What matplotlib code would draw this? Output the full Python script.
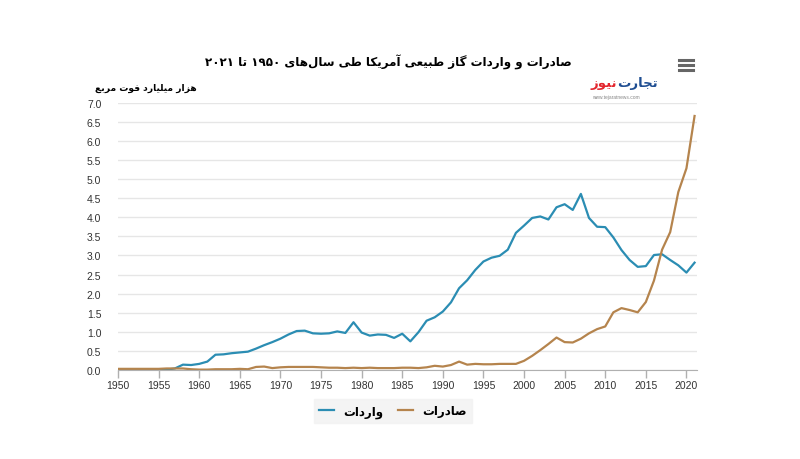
import re
import matplotlib
matplotlib.use("Agg")
import matplotlib.pyplot as plt
from matplotlib.lines import Line2D

# سال‌ها و مقادیر (هزار میلیارد فوت)
years = list(range(1950, 2022))

imports = [0.00, 0.00, 0.00, 0.01, 0.01, 0.01, 0.01, 0.04, 0.14, 0.13,
           0.16, 0.22, 0.40, 0.41, 0.44, 0.46, 0.48, 0.56, 0.65, 0.73,
           0.82, 0.93, 1.02, 1.03, 0.96, 0.95, 0.96, 1.01, 0.97, 1.25,
           0.98, 0.90, 0.93, 0.92, 0.84, 0.95, 0.75, 0.99, 1.29, 1.38,
           1.53, 1.77, 2.14, 2.35, 2.62, 2.84, 2.94, 2.99, 3.15, 3.59,
           3.78, 3.98, 4.02, 3.94, 4.26, 4.34, 4.19, 4.61, 3.98, 3.75,
           3.74, 3.47, 3.14, 2.88, 2.70, 2.72, 3.01, 3.03, 2.88, 2.74,
           2.55, 2.81]

exports = [0.03, 0.03, 0.03, 0.03, 0.03, 0.03, 0.04, 0.04, 0.04, 0.02,
           0.01, 0.01, 0.02, 0.02, 0.02, 0.03, 0.02, 0.08, 0.09, 0.05,
           0.07, 0.08, 0.08, 0.08, 0.08, 0.07, 0.06, 0.06, 0.05, 0.06,
           0.05, 0.06, 0.05, 0.05, 0.05, 0.06, 0.06, 0.05, 0.07, 0.11,
           0.09, 0.13, 0.22, 0.14, 0.16, 0.15, 0.15, 0.16, 0.16, 0.16,
           0.24, 0.37, 0.52, 0.68, 0.85, 0.73, 0.72, 0.82, 0.96, 1.07,
           1.14, 1.51, 1.62, 1.57, 1.51, 1.78, 2.34, 3.15, 3.61, 4.66,
           5.28, 6.65]

x_ticks = list(range(1950, 2021, 5))
y_ticks = [i * 0.5 for i in range(15)]

title_fa = "صادرات و واردات گاز طبیعی آمریکا طی سال\u200cهای ۱۹۵۰ تا ۲۰۲۱"
unit_fa = "هزار میلیارد فوت مربع"
label_imports = "واردات"
label_exports = "صادرات"

# شکل‌های حروف: (جدا، پایانی، آغازی، میانی)
FORMS = {
    "ا": ("\uFE8D", "\uFE8E"), "آ": ("\uFE81", "\uFE82"),
    "ب": ("\uFE8F", "\uFE90", "\uFE91", "\uFE92"),
    "ت": ("\uFE95", "\uFE96", "\uFE97", "\uFE98"),
    "ج": ("\uFE9D", "\uFE9E", "\uFE9F", "\uFEA0"),
    "د": ("\uFEA9", "\uFEAA"), "ر": ("\uFEAD", "\uFEAE"), "ز": ("\uFEAF", "\uFEB0"),
    "س": ("\uFEB1", "\uFEB2", "\uFEB3", "\uFEB4"),
    "ص": ("\uFEB9", "\uFEBA", "\uFEBB", "\uFEBC"),
    "ط": ("\uFEC1", "\uFEC2", "\uFEC3", "\uFEC4"),
    "ع": ("\uFEC9", "\uFECA", "\uFECB", "\uFECC"),
    "ف": ("\uFED1", "\uFED2", "\uFED3", "\uFED4"),
    "ل": ("\uFEDD", "\uFEDE", "\uFEDF", "\uFEE0"),
    "م": ("\uFEE1", "\uFEE2", "\uFEE3", "\uFEE4"),
    "ن": ("\uFEE5", "\uFEE6", "\uFEE7", "\uFEE8"),
    "ه": ("\uFEE9", "\uFEEA", "\uFEEB", "\uFEEC"),
    "و": ("\uFEED", "\uFEEE"),
    "ی": ("\uFBFC", "\uFBFD", "\uFBFE", "\uFBFF"),
    "ک": ("\uFB8E", "\uFB8F", "\uFB90", "\uFB91"),
    "گ": ("\uFB92", "\uFB93", "\uFB94", "\uFB95"),
}


def fa(text):
    """Shape Persian letters and reverse for left-to-right drawing."""
    out = []
    for i, c in enumerate(text):
        if c not in FORMS:
            out.append(c)
            continue
        prev = text[i - 1] if i > 0 else ""
        nxt = text[i + 1] if i + 1 < len(text) else ""
        j_prev = prev in FORMS and len(FORMS[prev]) == 4
        j_next = nxt in FORMS and len(FORMS[c]) == 4
        f = FORMS[c]
        if j_prev and j_next:
            out.append(f[3])
        elif j_prev:
            out.append(f[1])
        elif j_next:
            out.append(f[2])
        else:
            out.append(f[0])
    s = "".join(out).replace("\u200c", "")
    tokens = re.findall(r"[0-9۰-۹.]+|.", s)
    return "".join(reversed(tokens))


FA_FONT = ["DejaVu Sans"]
NUM_FONT = ["Liberation Sans", "DejaVu Sans"]

fig = plt.figure(figsize=(8, 4.6), dpi=100)
ax = fig.add_axes([118 / 800, 1 - 371 / 460, 579 / 800, 267.4 / 460])

ax.plot(years, imports, color="#2b8db3", lw=1.6, label=fa(label_imports))
ax.plot(years, exports, color="#b5844d", lw=1.6, label=fa(label_exports))

ax.set_xlim(1950, 2021.3)
ax.set_ylim(0, 7.0)
ax.set_xticks(x_ticks)
ax.set_yticks(y_ticks)
ax.set_yticklabels([f"{v:.1f}" for v in y_ticks])
ax.grid(axis="y", color="#e6e6e6", lw=1)
ax.set_axisbelow(True)
for side in ["top", "right", "left"]:
    ax.spines[side].set_visible(False)
ax.spines["bottom"].set_color("#b0b0b0")
ax.tick_params(axis="x", length=6, width=1, color="#b0b0b0", pad=1,
               labelsize=7.5, labelcolor="#333333")
ax.tick_params(axis="y", length=0, pad=12, labelsize=7.5, labelcolor="#333333")
for lbl in ax.get_xticklabels() + ax.get_yticklabels():
    lbl.set_family(NUM_FONT)

# عنوان و واحد
fig.text(388 / 800, 1 - 62 / 460, fa(title_fa), ha="center", va="center",
         fontsize=8.6, fontweight="bold", family=FA_FONT)
fig.text(95 / 800, 1 - 88 / 460, fa(unit_fa), ha="left", va="center",
         fontsize=6.6, fontweight="bold", family=FA_FONT)

# لوگو
fig.text(617 / 800, 1 - 84 / 460, fa("نیوز"), ha="right", va="center",
         fontsize=9.5, fontweight="bold", color="#e3262e", family=FA_FONT)
fig.text(617 / 800, 1 - 84 / 460, fa("تجارت"), ha="left", va="center",
         fontsize=9.5, fontweight="bold", color="#1f4e92", family=FA_FONT)
fig.text(616 / 800, 1 - 97 / 460, "www.tejaratnews.com", ha="center", va="center",
         fontsize=3.5, color="#888888", family=NUM_FONT)

# آیکون منو
for yy in [61, 66, 71]:
    fig.add_artist(Line2D([679 / 800, 693 / 800], [1 - yy / 460, 1 - yy / 460],
                          color="#666666", lw=2.2))

leg = ax.legend(loc="center", bbox_to_anchor=(393 / 800, 1 - 412 / 460),
                bbox_transform=fig.transFigure, ncol=2, frameon=True,
                fancybox=False, handlelength=1.2, columnspacing=1.3,
                borderpad=0.45, prop={"family": FA_FONT, "weight": "bold", "size": 8.5})
leg.get_frame().set_facecolor("#f2f2f2")
leg.get_frame().set_edgecolor("#f2f2f2")

fig.savefig("out.png", dpi=100)
